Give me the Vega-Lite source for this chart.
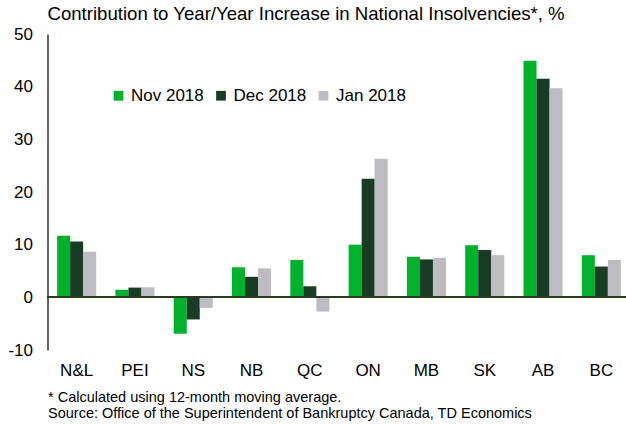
{
  "$schema": "https://vega.github.io/schema/vega-lite/v6.json",
  "autosize": "none",
  "width": 583,
  "height": 316,
  "padding": {"left": 47.5, "top": 34, "right": 0, "bottom": 74},
  "background": "white",
  "config": {
    "font": "Liberation Sans",
    "view": {"stroke": null}
  },
  "title": {
    "text": "Contribution to Year/Year Increase in National Insolvencies*, %",
    "anchor": "start",
    "frame": "group",
    "fontSize": 18.6,
    "fontWeight": "normal",
    "color": "#000000",
    "offset": 10,
    "dy": 9
  },
  "data": {
    "values": [
      {"prov": "N&L", "series": "Nov 2018", "value": 11.7},
      {"prov": "N&L", "series": "Dec 2018", "value": 10.6},
      {"prov": "N&L", "series": "Jan 2018", "value": 8.65},
      {"prov": "PEI", "series": "Nov 2018", "value": 1.45},
      {"prov": "PEI", "series": "Dec 2018", "value": 1.85},
      {"prov": "PEI", "series": "Jan 2018", "value": 1.9},
      {"prov": "NS", "series": "Nov 2018", "value": -6.9},
      {"prov": "NS", "series": "Dec 2018", "value": -4.2},
      {"prov": "NS", "series": "Jan 2018", "value": -2.0},
      {"prov": "NB", "series": "Nov 2018", "value": 5.7},
      {"prov": "NB", "series": "Dec 2018", "value": 3.9},
      {"prov": "NB", "series": "Jan 2018", "value": 5.5},
      {"prov": "QC", "series": "Nov 2018", "value": 7.1},
      {"prov": "QC", "series": "Dec 2018", "value": 2.1},
      {"prov": "QC", "series": "Jan 2018", "value": -2.7},
      {"prov": "ON", "series": "Nov 2018", "value": 10.0},
      {"prov": "ON", "series": "Dec 2018", "value": 22.5},
      {"prov": "ON", "series": "Jan 2018", "value": 26.3},
      {"prov": "MB", "series": "Nov 2018", "value": 7.7},
      {"prov": "MB", "series": "Dec 2018", "value": 7.2},
      {"prov": "MB", "series": "Jan 2018", "value": 7.5},
      {"prov": "SK", "series": "Nov 2018", "value": 9.9},
      {"prov": "SK", "series": "Dec 2018", "value": 9.0},
      {"prov": "SK", "series": "Jan 2018", "value": 8.0},
      {"prov": "AB", "series": "Nov 2018", "value": 44.9},
      {"prov": "AB", "series": "Dec 2018", "value": 41.5},
      {"prov": "AB", "series": "Jan 2018", "value": 39.7},
      {"prov": "BC", "series": "Nov 2018", "value": 8.0},
      {"prov": "BC", "series": "Dec 2018", "value": 5.85},
      {"prov": "BC", "series": "Jan 2018", "value": 7.1}
    ]
  },
  "layer": [
    {
      "mark": {"type": "bar"},
      "encoding": {
        "x": {
          "field": "prov",
          "type": "nominal",
          "sort": null,
          "scale": {"paddingInner": 0.33, "paddingOuter": 0.165},
          "axis": {
            "title": ["* Calculated using 12-month moving average.", "Source: Office of the Superintendent of Bankruptcy Canada, TD Economics"],
            "titleAnchor": "start",
            "titleAlign": "left",
            "titleFontSize": 14.5,
            "titleFontWeight": "normal",
            "titleColor": "#000000",
            "titlePadding": 12,
            "titleLineHeight": 16.5,
            "labelAngle": 0,
            "labelFontSize": 17,
            "labelColor": "#000000",
            "labelPadding": 12,
            "domain": false,
            "ticks": false
          }
        },
        "xOffset": {"field": "series", "type": "nominal", "sort": ["Nov 2018", "Dec 2018", "Jan 2018"]},
        "y": {
          "field": "value",
          "type": "quantitative",
          "scale": {"domain": [-10, 50], "nice": false},
          "axis": {
            "title": null,
            "values": [-10, 0, 10, 20, 30, 40, 50],
            "labelExpr": "datum.value < 0 ? '-' + abs(datum.value) : datum.label",
            "grid": false,
            "ticks": false,
            "labelFontSize": 17,
            "labelColor": "#000000",
            "labelPadding": 15,
            "domainColor": "#2a3a20",
            "domainWidth": 1.5
          }
        },
        "color": {
          "field": "series",
          "type": "nominal",
          "sort": ["Nov 2018", "Dec 2018", "Jan 2018"],
          "scale": {"domain": ["Nov 2018", "Dec 2018", "Jan 2018"], "range": ["#00B22B", "#193D24", "#BDBDC1"]},
          "legend": {
            "title": null,
            "orient": "none",
            "legendX": 62.5,
            "legendY": 53,
            "direction": "horizontal",
            "columns": 3,
            "symbolType": "square",
            "symbolSize": 95,
            "symbolStrokeWidth": 0,
            "labelFontSize": 17,
            "labelColor": "#000000",
            "labelOffset": 4,
            "columnPadding": 8.5
          }
        }
      }
    },
    {
      "mark": {"type": "rule", "color": "#2a3a20", "strokeWidth": 1.5},
      "encoding": {"y": {"datum": 0}}
    }
  ]
}
